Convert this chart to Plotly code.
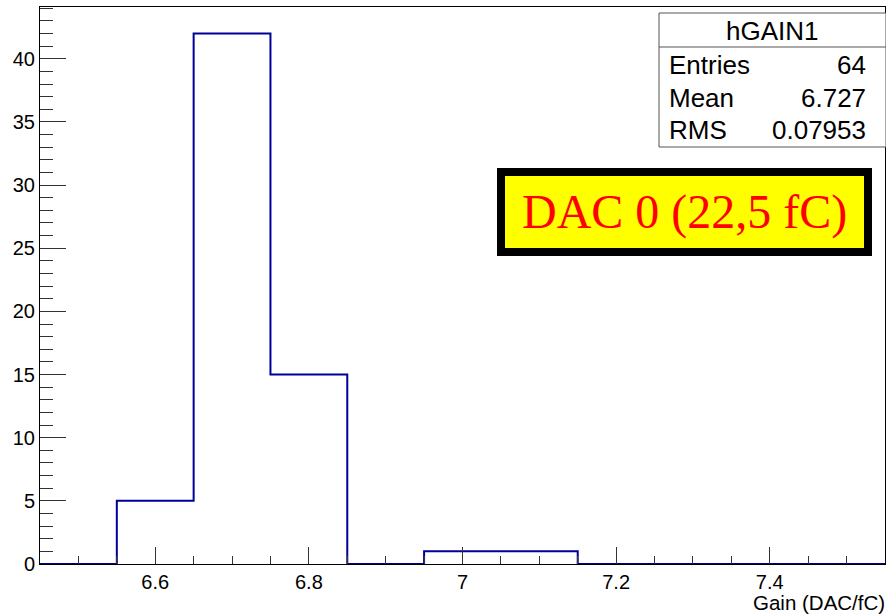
import plotly.graph_objects as go

# ---- data ----
bin_edges = [6.45, 6.55, 6.65, 6.75, 6.85, 6.95, 7.05, 7.15, 7.25, 7.35, 7.45, 7.55]
bin_counts = [0, 5, 42, 15, 0, 1, 1, 0, 0, 0, 0]
x_ticks = [6.6, 6.8, 7.0, 7.2, 7.4]
x_tick_labels = ["6.6", "6.8", "7", "7.2", "7.4"]
y_ticks = [0, 5, 10, 15, 20, 25, 30, 35, 40]
stats_name = "hGAIN1"
stats_rows = [("Entries", "64"), ("Mean", "6.727"), ("RMS", "0.07953")]
label_text = "DAC 0 (22,5 fC)"
x_title = "Gain (DAC/fC)"

W, H = 886, 614
L, R, T, B = 40, 885, 7, 564  # plot area in pixels


def px(xp):
    return (xp - L) / (R - L)


def py(yp):
    return (B - yp) / (B - T)


step_x = bin_edges
step_y = bin_counts + [bin_counts[-1]]

fig = go.Figure()
fig.add_trace(go.Scatter(
    x=step_x, y=step_y, mode="lines", line_shape="hv",
    line=dict(color="#000099", width=2), hoverinfo="skip", showlegend=False,
))

font = "Liberation Sans, Arial, sans-serif"
fig.update_layout(
    width=W, height=H,
    margin=dict(l=L, r=W - R, t=T, b=H - B),
    paper_bgcolor="white", plot_bgcolor="white",
    font=dict(family=font, size=20, color="black"),
    showlegend=False,
    xaxis=dict(
        range=[bin_edges[0], bin_edges[-1]],
        tickvals=x_ticks, ticktext=x_tick_labels,
        ticks="inside", ticklen=17, tickcolor="#333", tickwidth=1,
        minor=dict(dtick=0.05, ticks="inside", ticklen=8, tickcolor="#333", tickwidth=1, showgrid=False),
        showline=True, linecolor="black", linewidth=1, mirror=True,
        showgrid=False, zeroline=False,
        tickfont=dict(size=20, family=font),
    ),
    yaxis=dict(
        range=[0, 44.1],
        tickvals=y_ticks,
        ticks="inside", ticklen=26, tickcolor="#333", tickwidth=1,
        minor=dict(dtick=1, ticks="inside", ticklen=13, tickcolor="#333", tickwidth=1, showgrid=False),
        showline=True, linecolor="black", linewidth=1, mirror=True,
        showgrid=False, zeroline=False,
        tickfont=dict(size=20, family=font),
    ),
)

# x axis title
fig.add_annotation(x=px(887), y=py(602), xref="paper", yref="paper",
                   text=x_title, showarrow=False, xanchor="right", yanchor="middle",
                   font=dict(size=20.5, family=font))

# stats box
fig.add_shape(type="rect", xref="paper", yref="paper",
              x0=px(659), x1=px(886), y0=py(147), y1=py(13),
              line=dict(color="#555", width=1), fillcolor="white")
fig.add_shape(type="line", xref="paper", yref="paper",
              x0=px(659), x1=px(886), y0=py(47), y1=py(47),
              line=dict(color="#555", width=1))
fig.add_annotation(x=px(772), y=py(31), xref="paper", yref="paper",
                   text=stats_name, showarrow=False, xanchor="center", yanchor="middle",
                   font=dict(size=26, family=font))
row_y = [65, 98, 130]
for (k, v), yy in zip(stats_rows, row_y):
    fig.add_annotation(x=px(667), y=py(yy), xref="paper", yref="paper",
                       text=k, showarrow=False, xanchor="left", yanchor="middle",
                       font=dict(size=26, family=font))
    fig.add_annotation(x=px(868), y=py(yy), xref="paper", yref="paper",
                       text=v, showarrow=False, xanchor="right", yanchor="middle",
                       font=dict(size=26, family=font))

# label box
fig.add_shape(type="rect", xref="paper", yref="paper",
              x0=px(501), x1=px(868), y0=py(252), y1=py(172),
              line=dict(color="black", width=8), fillcolor="#ffff00")
fig.add_annotation(x=px(684), y=py(212), xref="paper", yref="paper",
                   text=label_text, showarrow=False, xanchor="center", yanchor="middle",
                   font=dict(size=48, family="Liberation Serif, Times New Roman, serif", color="red"))

fig.write_html("out.html")
